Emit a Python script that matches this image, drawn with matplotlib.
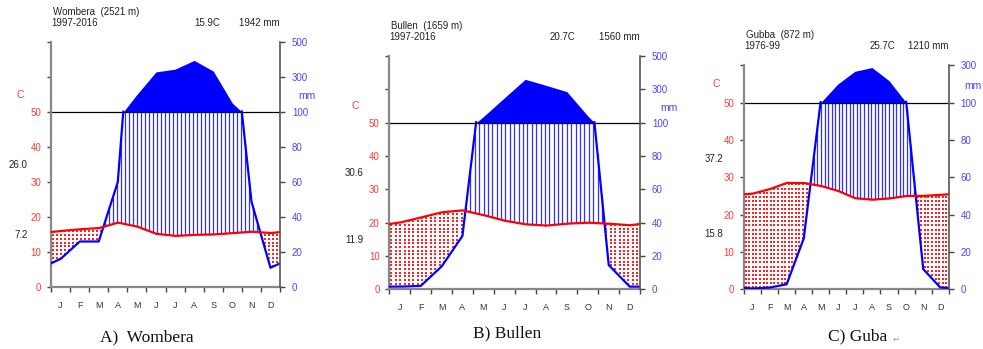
import numpy as np
import matplotlib.pyplot as plt

plt.rcParams['font.family'] = ['Liberation Sans', 'DejaVu Sans']

W, H = 983, 349

months = ['J', 'F', 'M', 'A', 'M', 'J', 'J', 'A', 'S', 'O', 'N', 'D']

# A) Wombera
wombera_temp = [16.0, 16.5, 16.8, 18.4, 17.3, 15.2, 14.6, 14.9, 15.0, 15.4, 15.8, 15.4]
wombera_prec = [16, 26, 26, 60, 200, 329, 345, 395, 334, 151, 49, 11]
# B) Bullen
bullen_temp = [20.0, 21.5, 23.1, 23.7, 22.3, 20.6, 19.5, 19.1, 19.7, 20.0, 19.7, 19.2]
bullen_prec = [1.6, 2, 13.6, 32, 136, 248, 360, 324, 286, 140, 14.6, 1.6]
# C) Guba
guba_temp = [25.6, 26.8, 28.5, 28.5, 27.7, 26.4, 24.4, 24.0, 24.3, 25.0, 25.0, 25.3]
guba_prec = [0.4, 0.9, 2.7, 27, 101, 200, 268, 288, 218, 101, 10.9, 1.0]

stations = ['Wombera  (2521 m)', 'Bullen  (1659 m)', 'Gubba  (872 m)']
periods = ['1997-2016', '1997-2016', '1976-99']
mean_temp = ['15.9C', '20.7C', '25.7C']
total_prec = ['1942 mm', '1560 mm', '1210 mm']
max_labels = ['26.0', '30.6', '37.2']
min_labels = ['7.2', '11.9', '15.8']
captions = ['A)  Wombera', 'B) Bullen', 'C) Guba']

RED_TXT = '#ff3b3b'
BLUE_TXT = '#4646ff'


def climate_panel(ax, temp, prec, ytop, rlabels):
    x = np.arange(0.5, 12, 1.0)
    xe = np.concatenate([[0], x, [12]])
    te = np.concatenate([[(temp[0] + temp[-1]) / 2], temp, [(temp[0] + temp[-1]) / 2]])
    pe = np.concatenate([[(prec[0] + prec[-1]) / 2], prec, [(prec[0] + prec[-1]) / 2]])

    xd = np.linspace(0, 12, 3601)
    td = np.interp(xd, xe, te)
    pd = np.interp(xd, xe, pe)
    high = np.where(pd > 100, 50 + (pd - 100) / 20, 50)

    # hatching of humid (blue lines) and dry (red dots) periods
    xh = np.arange(0.1, 12, 0.21)
    th = np.interp(xh, xe, te)
    ph = np.minimum(np.interp(xh, xe, pe) / 2, 50)
    wet = ph > th
    ax.vlines(xh[wet], th[wet], ph[wet], color='#3030ff', lw=0.9, zorder=1)
    dx, dy = [], []
    for xi, pi, ti in zip(xh[~wet], ph[~wet], th[~wet]):
        ys = np.arange(0.6, ti, 1.1)
        ys = ys[ys > pi]
        dx += [xi] * len(ys)
        dy += list(ys)
    ax.scatter(dx, dy, s=1.2, marker='s', color='#ff2020', linewidths=0, zorder=1)

    ax.axhline(50, color='black', lw=0.9, zorder=1.5)
    ax.fill_between(xd, 50, high, where=pd > 100, interpolate=True,
                    color='blue', lw=0, zorder=2)
    ax.plot(xd, np.where(pd <= 100.5, pd / 2, np.nan), color='blue', lw=1.6, zorder=3)
    ax.plot(xd, td, color='red', lw=1.6, zorder=4)

    ax.set_xlim(0, 12)
    ax.set_ylim(0, ytop)
    ax.spines['top'].set_visible(False)
    ax.spines['right'].set_visible(False)
    for s in ['left', 'bottom']:
        ax.spines[s].set_color('#888888')
        ax.spines[s].set_linewidth(1.6)

    yt = list(range(0, ytop + 1, 10))
    ax.set_yticks(yt)
    ax.set_yticklabels([str(v) if v <= 50 else '' for v in yt], color=RED_TXT, fontsize=7)
    ax.tick_params(axis='y', length=3, width=1, color='#444444', pad=4)

    ax.set_xticks(range(13))
    ax.set_xticklabels([])
    ax.set_xticks(np.arange(0.5, 12), minor=True)
    ax.set_xticklabels(months, minor=True, fontsize=6.5, color='#333333')
    ax.tick_params(axis='x', which='major', length=3.6, width=1, color='#444444')
    ax.tick_params(axis='x', which='minor', length=0, pad=10)

    ax2 = ax.twinx()
    ax2.set_ylim(0, ytop)
    ax2.set_yticks(yt)
    ax2.set_yticklabels(rlabels, color=BLUE_TXT, fontsize=7)
    ax2.tick_params(axis='y', length=3.6, width=1, color='#444444', pad=5)
    for s in ['left', 'top', 'bottom']:
        ax2.spines[s].set_visible(False)
    ax2.spines['right'].set_color('#555555')
    ax2.spines['right'].set_linewidth(1.2)
    return ax2


def px_axes(x0, x1, ytop_px, ybot_px):
    return [x0 / W, 1 - ybot_px / H, (x1 - x0) / W, (ybot_px - ytop_px) / H]


fig = plt.figure(figsize=(W / 100, H / 100), dpi=100)

panels = [
    (px_axes(51, 280, 42, 287), wombera_temp, wombera_prec, 70,
     ['0', '20', '40', '60', '80', '100', '300', '500']),
    (px_axes(389.3, 640, 56, 289.3), bullen_temp, bullen_prec, 70,
     ['0', '20', '40', '60', '80', '100', '300', '500']),
    (px_axes(744, 948.7, 65.3, 289.3), guba_temp, guba_prec, 60,
     ['0', '20', '40', '60', '80', '100', '300']),
]

for i, (rect, temp, prec, ytop, rl) in enumerate(panels):
    ax = fig.add_axes(rect)
    climate_panel(ax, temp, prec, ytop, rl)

    ax.annotate(stations[i], xy=(0, 1), xycoords='axes fraction', xytext=(1.5, 21.6),
                textcoords='offset points', ha='left', va='center', fontsize=7, color='#222222')
    ax.annotate(periods[i], xy=(0, 1), xycoords='axes fraction', xytext=(0, 13.6),
                textcoords='offset points', ha='left', va='center', fontsize=7, color='#222222')
    ax.annotate(mean_temp[i], xy=(0.74, 1), xycoords='axes fraction', xytext=(0, 13.6),
                textcoords='offset points', ha='right', va='center', fontsize=7, color='#222222')
    ax.annotate(total_prec[i], xy=(1, 1), xycoords='axes fraction', xytext=(0, 13.6),
                textcoords='offset points', ha='right', va='center', fontsize=7, color='#222222')

    ax.text(-1.63, 55, 'C', ha='center', va='center', fontsize=7.5, color=RED_TXT, clip_on=False)
    ax.text(13.4, 54.5, 'mm', ha='center', va='center', fontsize=7.5, color=BLUE_TXT, clip_on=False)
    ax.text(-1.22, 35, max_labels[i], ha='right', va='center', fontsize=7, color='#222222', clip_on=False)
    ax.text(-1.22, 14.8, min_labels[i], ha='right', va='center', fontsize=7, color='#222222', clip_on=False)

# captions below panels
cap_pos = [(147, 337), (507, 333), (858, 336)]
for cap, (cx, cy) in zip(captions, cap_pos):
    fig.text(cx / W, 1 - cy / H, cap, ha='center', va='center', fontsize=12.5,
             family='Liberation Serif', color='#111111')
fig.text(896 / W, 1 - 339 / H, '\u21b5', ha='center', va='center', fontsize=6,
         family='DejaVu Sans', color='#999999')

fig.savefig('out.png', dpi=100, facecolor='white')
